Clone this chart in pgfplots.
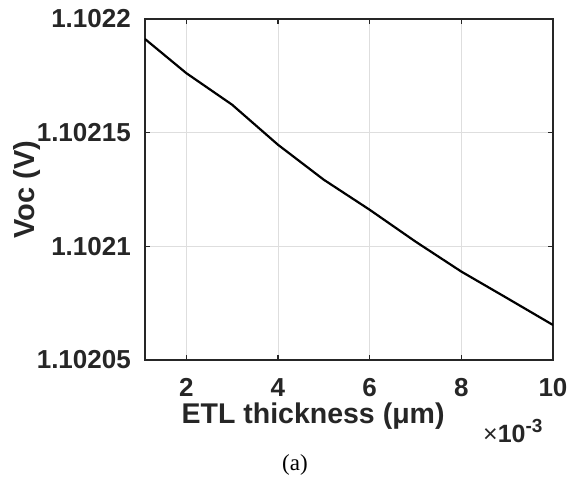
\documentclass[border=0pt]{standalone}
\usepackage{pgfplots}
\pgfplotsset{compat=1.18}
\usepackage{fontspec}
\setmainfont{Liberation Sans}
\newfontfamily\timesfont{Liberation Serif}
\definecolor{axgray}{RGB}{38,38,38}
\definecolor{gridgray}{RGB}{222,222,222}
% keep Voc values as given; strip the common prefix to avoid TeX precision loss
\def\vocstrip 1.102#1\relax{\def\pgfmathresult{#1}}
\pgfplotstableread{
x y
1.1 1.1021912
2 1.1021762
3 1.1021623
4 1.1021447
5 1.1021293
6 1.1021161
7 1.1021021
8 1.1020889
9 1.1020772
10 1.1020654
}\voc
\begin{document}
\begin{tikzpicture}
\path[use as bounding box] (-145pt,-122pt) rectangle (429pt,360pt);
\begin{axis}[
 at={(0pt,0pt)}, anchor=south west,
 scale only axis, width=408pt, height=341pt,
 xmin=1.1, xmax=10,
 y coord trafo/.code={\edef\vocarg{#1}\expandafter\vocstrip\vocarg\relax},
 ymin=1.1020500, ymax=1.1022000,
 xtick={2,4,6,8,10},
 ytick={1.1020500,1.1021000,1.1021500,1.1022000},
 yticklabels={1.10205,1.1021,1.10215,1.1022},
 grid=major,
 major grid style={gridgray, line width=0.7pt},
 axis line style={axgray, line width=1.5pt},
 tick style={axgray, line width=1.5pt},
 major tick length=5pt,
 tick align=inside,
 xtick pos=both, ytick pos=both,
 /pgf/number format/assume math mode=true,
 xticklabel style={font=\fontsize{26}{26}\selectfont\bfseries, anchor=base, inner sep=0pt, yshift=-37pt, text=axgray},
 yticklabel style={font=\fontsize{26}{26}\selectfont\bfseries, anchor=east, inner sep=0pt, xshift=-14pt, text=axgray},
 xlabel={ETL thickness (μm)},
 xlabel style={at={(axis description cs:0.412,-0.186)}, anchor=base, inner sep=0pt, font=\fontsize{28.5}{28.5}\selectfont\bfseries, text=axgray},
 ylabel={Voc (V)},
 ylabel style={at={(axis description cs:-0.289,0.5)}, anchor=center, inner sep=0pt, font=\fontsize{29}{29}\selectfont\bfseries, text=axgray},
]
\addplot[black, line width=2.2pt] table[x=x, y=y] {\voc};
\end{axis}
\node[anchor=base west, inner sep=0pt, text=axgray] at (338pt,-83pt) {\fontsize{25}{25}\selectfont ×\textbf{10}\raisebox{10pt}{\fontsize{19}{19}\selectfont\textbf{-3}}};
\node[anchor=base, inner sep=0pt] at (150pt,-111pt) {\timesfont\fontsize{23}{23}\selectfont (a)};
\end{tikzpicture}
\end{document}
